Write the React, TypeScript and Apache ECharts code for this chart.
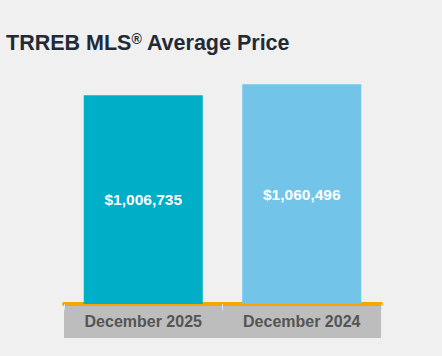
import React, { useEffect, useRef } from "react";
import * as echarts from "echarts";

const categories = ["December 2025", "December 2024"];
const values = [1006735, 1060496];
const barColors = ["#00aec7", "#72c4e9"];
const titleText = "TRREB MLS{sup|®} Average Price";

const fmt = (v: number) => "$" + v.toLocaleString("en-US");

export default function App() {
  const ref = useRef<HTMLDivElement>(null);
  useEffect(() => {
    if (!ref.current) return;
    const chart = echarts.init(ref.current, null, { renderer: "svg" });
    chart.setOption({
      animation: false,
      backgroundColor: "#f0f0f0",
      title: {
        text: titleText,
        left: 1,
        top: 27,
        textStyle: {
          fontFamily: "Liberation Sans, Arial, sans-serif",
          fontWeight: "bold",
          fontSize: 21.5,
          color: "#232a36",
          rich: {
            sup: {
              fontFamily: "Liberation Sans, Arial, sans-serif",
              fontWeight: "bold",
              fontSize: 14,
              color: "#232a36",
              verticalAlign: "top",
              padding: [0, 0, 8, 0],
            },
          },
        },
      },
      graphic: [
        {
          type: "rect",
          shape: { x: 64, y: 306, width: 317, height: 32 },
          style: { fill: "#bcbdbc" },
          z: -1,
        },
      ],
      grid: { left: 64, right: 61, top: 76, bottom: 52, containLabel: false },
      xAxis: {
        type: "category",
        data: categories,
        axisLine: { lineStyle: { color: "#f5a700", width: 4 } },
        axisTick: { show: true, length: 6, lineStyle: { color: "#e2e2e2", width: 1 } },
        axisLabel: {
          margin: 9,
          fontFamily: "Liberation Sans, Arial, sans-serif",
          fontWeight: "bold",
          fontSize: 16,
          color: "#555555",
        },
      },
      yAxis: {
        type: "value",
        min: 0,
        max: 1100000,
        show: false,
        splitLine: { show: false },
      },
      series: [
        {
          type: "bar",
          barWidth: 119,
          data: values.map((v, i) => ({ value: v, itemStyle: { color: barColors[i] } })),
          label: {
            show: true,
            position: "inside",
            formatter: (p: any) => fmt(p.value),
            fontFamily: "Liberation Sans, Arial, sans-serif",
            fontWeight: "bold",
            fontSize: 15.5,
            color: "#ffffff",
          },
        },
      ],
    });
    return () => chart.dispose();
  }, []);
  return (
    <div
      ref={ref}
      style={{ position: "fixed", left: 0, top: 0, width: 442, height: 356 }}
    />
  );
}
